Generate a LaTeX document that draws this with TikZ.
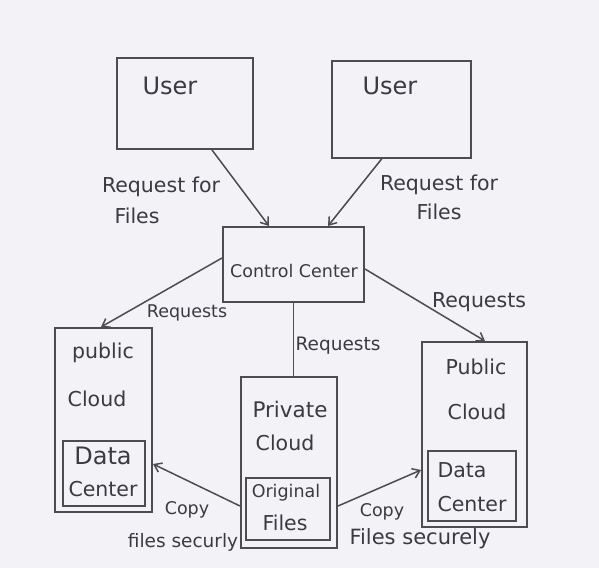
\documentclass[tikz,border=0pt]{standalone}
\usepackage{fontspec}
\setmainfont{DejaVu Sans}
\usetikzlibrary{arrows.meta}
\definecolor{paper}{HTML}{F2F2F7}
\definecolor{pencil}{HTML}{4C4C52}
\definecolor{ink}{HTML}{3A3A42}
\begin{document}
\begin{tikzpicture}[x=1pt,y=-1pt,
  box/.style={draw=pencil,line width=2pt,inner sep=0pt},
  inbox/.style={draw=pencil,line width=1.3pt,inner sep=0pt},
  hand/.style={text=ink,inner sep=0pt,font=\fontsize{20.5}{24}\selectfont},
  handbig/.style={hand,font=\fontsize{24}{28}\selectfont},
  handsmall/.style={hand,font=\fontsize{17.5}{21}\selectfont},
  flow/.style={draw=pencil,line width=1.5pt,-{Straight Barb[length=7pt,width=10pt]}},
  link/.style={draw=pencil,line width=1.4pt}]
\fill[paper] (0,0) rectangle (599,568);

% boxes
\node[box,minimum width=136pt,minimum height=91pt] (user1) at (185,103.5) {};
\node[box,minimum width=139pt,minimum height=97pt] (user2) at (401.5,109) {};
\node[box,minimum width=141pt,minimum height=75pt] (ctrl) at (293.5,264.5) {};
\node[box,minimum width=97pt,minimum height=184pt] (pub1) at (103.5,420) {};
\node[inbox,minimum width=82pt,minimum height=65pt] (dc1) at (104,473.5) {};
\node[box,minimum width=96pt,minimum height=171pt] (priv) at (289,462.5) {};
\node[inbox,minimum width=84pt,minimum height=62pt] (orig) at (288,509) {};
\node[box,minimum width=105pt,minimum height=185pt] (pub2) at (474.5,434.5) {};
\node[inbox,minimum width=88pt,minimum height=70pt] (dc2) at (472,486) {};

% texts in boxes
\node[handbig] (user1txt) at (170,86) {User};
\node[handbig] (user2txt) at (390,86) {User};
\node[hand,font=\fontsize{17.5}{21}\selectfont] (ctrltxt) at (294,271) {Control Center};
\node[hand] (pub1a) at (103,353) {public};
\node[hand] (pub1b) at (97,399) {Cloud};
\node[handbig] (dc1a) at (103,456) {Data};
\node[hand] (dc1b) at (103,489) {Center};
\node[hand,font=\fontsize{21.5}{25}\selectfont] (priva) at (290,409) {Private};
\node[hand] (privb) at (285,443) {Cloud};
\node[handsmall] (origa) at (286,493) {Original};
\node[hand] (origb) at (285,523) {Files};
\node[hand] (pub2a) at (476,367) {Public};
\node[hand] (pub2b) at (477,412) {Cloud};
\node[hand] (dc2a) at (462,470) {Data};
\node[hand] (dc2b) at (472,504) {Center};

% connectors
\draw[flow] ([xshift=27pt]user1.south) -- ([xshift=-24.5pt]ctrl.north);
\draw[flow] ([xshift=-19.5pt]user2.south) -- ([xshift=34.5pt]ctrl.north);
\draw[flow] ([yshift=6.5pt]ctrl.west) -- ([xshift=-2.5pt]pub1.north);
\draw[flow] ([yshift=-4.5pt]ctrl.east) -- ([xshift=10.5pt]pub2.north);
\draw[link] (ctrl.south) -- (ctrl.south |- priv.north);
\draw[flow] ([yshift=-43.5pt]priv.west) -- ([yshift=-44pt]pub1.east);
\draw[flow] ([yshift=-43.5pt]priv.east) -- ([yshift=-35.5pt]pub2.west);

% connector labels
\node[hand] (req1a) at (161,187) {Request for};
\node[hand] (req1b) at (137,216) {Files};
\node[hand] (req2a) at (439,185) {Request for};
\node[hand] (req2b) at (439,212) {Files};
\node[handsmall] (rq1) at (187,313) {Requests};
\node[hand,font=\fontsize{18.5}{22}\selectfont] (rq2) at (338,346) {Requests};
\node[hand] (rq3) at (479,302) {Requests};
\node[handsmall] (cp1a) at (187,510) {Copy};
\node[hand,font=\fontsize{18.5}{22}\selectfont] (cp1b) at (183,542) {files securly};
\node[handsmall] (cp2a) at (382,512) {Copy};
\node[hand,font=\fontsize{21}{25}\selectfont] (cp2b) at (420,539) {Files securely};
\end{tikzpicture}
\end{document}
